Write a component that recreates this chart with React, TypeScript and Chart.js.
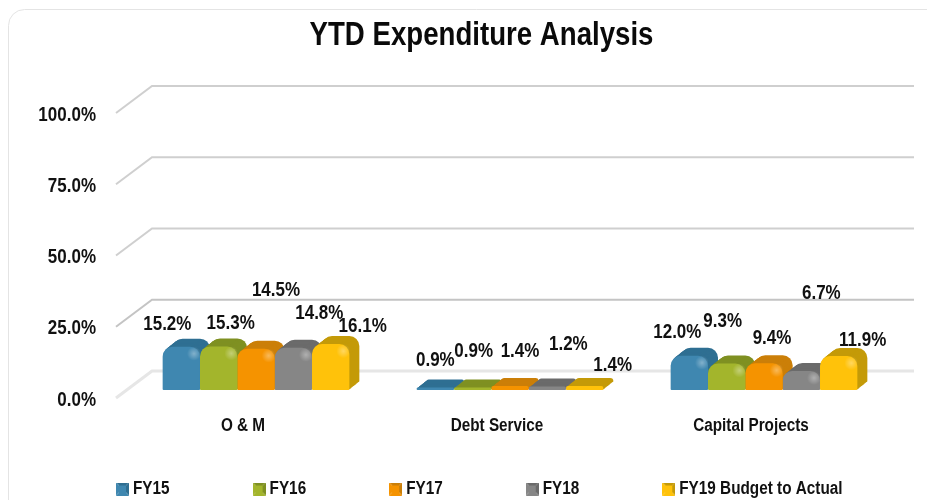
import React, { useEffect, useRef } from "react";
import { Chart, registerables } from "chart.js";

Chart.register(...registerables);

const categories = ["O & M", "Debt Service", "Capital Projects"];
const seriesNames = ["FY15", "FY16", "FY17", "FY18", "FY19 Budget to Actual"];
const fy15 = [15.2, 0.9, 12.0];
const fy16 = [15.3, 0.9, 9.3];
const fy17 = [14.5, 1.4, 9.4];
const fy18 = [14.8, 1.2, 6.7];
const fy19 = [16.1, 1.4, 11.9];
const seriesValues = [fy15, fy16, fy17, fy18, fy19];

const frontColors = ["#3f87b0", "#a3b52c", "#f59300", "#868686", "#ffc20a"];
const depthColors = ["#2f6f92", "#7f9022", "#cb7f08", "#6b6b6b", "#c49a08"];

// label nudges relative to each bar's top centre [dx, dy], per series then per category
const labelNudges = [
  [[-14, -22], [0, -27], [-12, -23]],
  [[12, -23], [1, -36], [-4, -42]],
  [[20, -58], [10, -35], [8, -25]],
  [[26, -34], [21, -42], [20, -77]],
  [[32, -18], [28, -21], [24, -16]],
];

const FONT = '"Liberation Sans", sans-serif';
const TEXT_SQUEEZE = 0.85;
const DEPTH_X = 10;
const DEPTH_Y = 8;
const LEGEND_PADDING = 88;
const LEGEND_START_X = 121;
const LEGEND_CENTER_Y = 489;
const TITLE_SHIFT = 36;

// All text here is set in a condensed cut, which the installed fonts lack.
function condenseText(ctx: CanvasRenderingContext2D) {
  const fill = ctx.fillText.bind(ctx);
  const measure = ctx.measureText.bind(ctx);
  ctx.fillText = (text: string, x: number, y: number) => {
    ctx.save();
    ctx.translate(x, y);
    ctx.scale(TEXT_SQUEEZE, 1);
    fill(text, 0, 0);
    ctx.restore();
  };
  ctx.measureText = (text: string) => {
    const m = measure(text);
    return { width: m.width * TEXT_SQUEEZE, actualBoundingBoxAscent: m.actualBoundingBoxAscent } as TextMetrics;
  };
}

function legendIcon(front: string, dark: string) {
  const size = 13;
  const icon = document.createElement("canvas");
  icon.width = size;
  icon.height = size;
  const c = icon.getContext("2d")!;
  const mid = size / 2;
  const face = (color: string, pts: number[][]) => {
    c.fillStyle = color;
    c.beginPath();
    pts.forEach(([x, y], i) => (i ? c.lineTo(x, y) : c.moveTo(x, y)));
    c.closePath();
    c.fill();
  };
  face(dark, [[0, 0], [size, 0], [mid, mid]]);
  face(front, [[0, 0], [0, size], [mid, mid]]);
  face(dark, [[size, 0], [size, size], [mid, mid]]);
  face(front, [[0, size], [size, size], [mid, mid]]);
  c.fillStyle = front;
  c.fillRect(3, 3, size - 6, size - 6);
  return icon;
}

const scene = {
  id: "scene",
  beforeLayout(chart: any) {
    const legend = chart.legend;
    if (legend && !legend.__fitted) {
      legend.__fitted = true;
      const fit = legend.fit;
      legend.fit = function () {
        this.maxWidth = 1400;
        fit.call(this);
        this.height = 32;
      };
    }
  },
  afterLayout(chart: any) {
    const legend = chart.legend;
    legend.left = LEGEND_START_X - LEGEND_PADDING;
    legend.right = legend.left + 1400;
    legend.top = LEGEND_CENTER_Y - 9 - LEGEND_PADDING;
    const title = chart.titleBlock;
    title.left += TITLE_SHIFT;
    title.right += TITLE_SHIFT;
  },
  beforeDraw(chart: any) {
    const { ctx } = chart;
    ctx.save();
    ctx.fillStyle = "#ffffff";
    ctx.fillRect(0, 0, chart.width, chart.height);
    ctx.strokeStyle = "#e4e4e4";
    ctx.lineWidth = 1;
    ctx.beginPath();
    ctx.roundRect(8.5, 9.5, 1000, 700, 16);
    ctx.stroke();
    ctx.restore();
  },
  beforeDatasetsDraw(chart: any) {
    const { ctx, chartArea, scales } = chart;
    const frontX = chartArea.left - 13;
    const backX = frontX + 36;
    const rightX = chartArea.right + 23;
    ctx.save();
    for (const tick of scales.y.ticks) {
      const y = scales.y.getPixelForValue(tick.value);
      const isZero = tick.value === 0;
      const is25 = tick.value === 25;
      ctx.strokeStyle = isZero ? "#e6e6e6" : is25 ? "#c4c4c4" : "#cfcfcf";
      ctx.lineWidth = isZero ? 3 : 2;
      ctx.beginPath();
      ctx.moveTo(frontX, y + 8);
      ctx.lineTo(backX, y - 19);
      ctx.lineTo(rightX, y - 19);
      ctx.stroke();
    }
    seriesValues.forEach((_, s) => {
      ctx.fillStyle = depthColors[s];
      chart.getDatasetMeta(s).data.forEach((bar: any) => {
        const w = bar.width;
        const h = bar.base - bar.y;
        const r = Math.min(10, Math.max(h, 3));
        for (let t = 10; t >= 1; t--) {
          ctx.beginPath();
          ctx.roundRect(
            bar.x - w / 2 + (t / 10) * DEPTH_X,
            bar.y - (t / 10) * DEPTH_Y,
            w,
            h,
            [r, r, 1, 1]
          );
          ctx.fill();
        }
      });
    });
    ctx.restore();
  },
  afterDatasetDraw(chart: any, args: any) {
    const { ctx } = chart;
    const meta = chart.getDatasetMeta(args.index);
    ctx.save();
    meta.data.forEach((bar: any) => {
      const h = bar.base - bar.y;
      if (h < 12) return;
      const right = bar.x + bar.width / 2;
      const grad = ctx.createRadialGradient(right - 6, bar.y + 7, 0, right - 6, bar.y + 7, 7);
      grad.addColorStop(0, "rgba(255,255,255,0.35)");
      grad.addColorStop(1, "rgba(255,255,255,0)");
      ctx.fillStyle = grad;
      ctx.fillRect(right - 13, bar.y, 13, 14);
    });
    ctx.restore();
  },
  afterDatasetsDraw(chart: any) {
    const { ctx } = chart;
    ctx.save();
    ctx.fillStyle = "#111111";
    ctx.font = `bold 20px ${FONT}`;
    ctx.textAlign = "center";
    ctx.textBaseline = "middle";
    seriesValues.forEach((values, s) => {
      const meta = chart.getDatasetMeta(s);
      values.forEach((v, c) => {
        const bar = meta.data[c];
        const [dx, dy] = labelNudges[s][c];
        ctx.fillText(`${v.toFixed(1)}%`, bar.x + dx, bar.y + dy);
      });
    });
    ctx.restore();
  },
};

export default function App() {
  const ref = useRef<HTMLCanvasElement>(null);
  useEffect(() => {
    const canvas = ref.current!;
    condenseText(canvas.getContext("2d")!);
    const icons = frontColors.map((color, i) => legendIcon(color, depthColors[i]));
    const chart = new Chart(canvas, {
      type: "bar",
      data: {
        labels: categories,
        datasets: seriesNames.map((name, i) => ({
          label: name,
          data: seriesValues[i],
          backgroundColor: frontColors[i],
          borderWidth: 0,
          borderRadius: { topLeft: 10, topRight: 10, bottomLeft: 1, bottomRight: 1 },
          borderSkipped: false,
          categoryPercentage: 0.735,
          barPercentage: 1,
        })),
      },
      options: {
        responsive: false,
        animation: false,
        devicePixelRatio: 1,
        layout: { padding: { left: 0, right: 36, top: 0, bottom: 0 } },
        plugins: {
          title: {
            display: true,
            text: "YTD Expenditure Analysis",
            color: "#0a0a0a",
            font: { family: FONT, size: 32.5, weight: "bold" },
            padding: { top: 17, bottom: 49 },
          },
          legend: {
            position: "bottom",
            align: "start",
            labels: {
              color: "#111111",
              font: { family: FONT, size: 18, weight: "bold" },
              usePointStyle: true,
              pointStyleWidth: 3,
              boxHeight: 12,
              padding: LEGEND_PADDING,
              generateLabels(c: any) {
                return Chart.defaults.plugins.legend.labels
                  .generateLabels(c)
                  .map((item: any, i: number) => ({ ...item, pointStyle: icons[i] }));
              },
            },
          },
          tooltip: { enabled: false },
        },
        scales: {
          x: {
            grid: { display: false },
            border: { display: false },
            ticks: {
              color: "#111111",
              font: { family: FONT, size: 18, weight: "bold" },
              labelOffset: -13,
              padding: 17,
              maxRotation: 0,
              autoSkip: false,
            },
            afterFit(scale: any) {
              scale.height = 78;
            },
          },
          y: {
            min: 0,
            max: 100,
            grid: { display: false },
            border: { display: false },
            ticks: {
              stepSize: 25,
              color: "#111111",
              font: { family: FONT, size: 20, weight: "bold" },
              labelOffset: 10,
              padding: 25,
              callback: (v: any) => `${Number(v).toFixed(1)}%`,
            },
            afterFit(scale: any) {
              scale.width = 129;
            },
          },
        },
      },
      plugins: [scene],
    } as any);
    return () => chart.destroy();
  }, []);
  return (
    <div style={{ position: "fixed", left: 0, top: 0, width: 927, height: 500 }}>
      <canvas ref={ref} width={927} height={500} style={{ display: "block" }} />
    </div>
  );
}
